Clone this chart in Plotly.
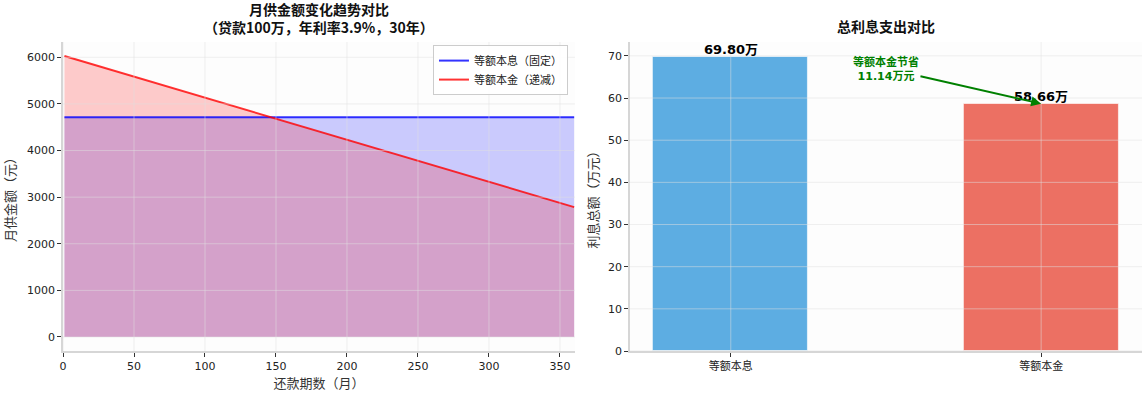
import plotly.graph_objects as go

# ---- data ----
months = [1, 60, 120, 180, 240, 300, 360]
equal_installment = [4716.74, 4716.74, 4716.74, 4716.74, 4716.74, 4716.74, 4716.74]
equal_principal = [6027.78, 5495.14, 4953.47, 4411.81, 3870.14, 3328.47, 2786.81]
line_names = ["等额本息（固定）", "等额本金（递减）"]

methods = ["等额本息", "等额本金"]
total_interest = [69.80, 58.66]
saving = 11.14

x_ticks_left = [0, 50, 100, 150, 200, 250, 300, 350]
y_ticks_left = [0, 1000, 2000, 3000, 4000, 5000, 6000]
y_ticks_right = [0, 10, 20, 30, 40, 50, 60, 70]

CJK = "Noto Sans CJK SC"
NUM = "DejaVu Sans, Noto Sans CJK SC"

fig = go.Figure()

# fills (blue first, red on top)
fig.add_trace(go.Scatter(x=months, y=equal_installment, mode="lines", line=dict(width=0),
                         fill="tozeroy", fillcolor="rgba(0,0,255,0.2)", showlegend=False,
                         hoverinfo="skip", xaxis="x", yaxis="y"))
fig.add_trace(go.Scatter(x=months, y=equal_principal, mode="lines", line=dict(width=0),
                         fill="tozeroy", fillcolor="rgba(255,0,0,0.2)", showlegend=False,
                         hoverinfo="skip", xaxis="x", yaxis="y"))
# lines
fig.add_trace(go.Scatter(x=months, y=equal_installment, mode="lines", name=line_names[0],
                         line=dict(color="rgba(0,0,255,0.8)", width=2), xaxis="x", yaxis="y"))
fig.add_trace(go.Scatter(x=months, y=equal_principal, mode="lines", name=line_names[1],
                         line=dict(color="rgba(255,0,0,0.8)", width=2), xaxis="x", yaxis="y"))

# bars
fig.add_trace(go.Bar(x=[0, 1], y=total_interest, width=0.5,
                     marker=dict(color=["rgba(52,152,219,0.8)", "rgba(231,76,60,0.8)"],
                                 line=dict(color="rgba(255,255,255,0.6)", width=1)),
                     showlegend=False, xaxis="x2", yaxis="y2"))

shapes = []
gcol = "rgba(225,225,225,0.5)"
for v in x_ticks_left:
    shapes.append(dict(type="line", xref="x", yref="y domain", x0=v, x1=v, y0=0, y1=1,
                       line=dict(color=gcol, width=1), layer="above"))
for v in y_ticks_left:
    shapes.append(dict(type="line", xref="x domain", yref="y", x0=0, x1=1, y0=v, y1=v,
                       line=dict(color=gcol, width=1), layer="above"))
for v in [0, 1]:
    shapes.append(dict(type="line", xref="x2", yref="y2 domain", x0=v, x1=v, y0=0, y1=1,
                       line=dict(color=gcol, width=1), layer="above"))
for v in y_ticks_right:
    shapes.append(dict(type="line", xref="x2 domain", yref="y2", x0=0, x1=1, y0=v, y1=v,
                       line=dict(color=gcol, width=1), layer="above"))

annotations = [
    dict(text="<b>月供金额变化趋势对比<br>（贷款100万，年利率3.9%，30年）</b>",
         xref="x domain", yref="paper", x=0.5, y=1.0, yshift=3, xanchor="center", yanchor="bottom",
         showarrow=False, font=dict(family=CJK, size=14, color="#111")),
    dict(text="<b>总利息支出对比</b>", xref="x2 domain", yref="paper", x=0.5, y=1.0, yshift=4,
         xanchor="center", yanchor="bottom", showarrow=False,
         font=dict(family=CJK, size=14, color="#111")),
]
for i, v in enumerate(total_interest):
    annotations.append(dict(text=f"<b>{v:.2f}万</b>", xref="x2", yref="y2", x=i, y=v,
                            xanchor="center", yanchor="bottom", showarrow=False, yshift=-2,
                            font=dict(family=NUM, size=13, color="#000")))
annotations.append(dict(text=f"<b>等额本金节省<br>{saving:.2f}万元</b>", xref="x2", yref="y2",
                        x=1, y=total_interest[1], ax=0.5, ay=67, axref="x2", ayref="y2",
                        showarrow=True, arrowhead=2, arrowsize=1, arrowwidth=2,
                        arrowcolor="green", standoff=0,
                        font=dict(family=NUM, size=11, color="green")))

axis_common = dict(showline=True, linecolor="#d6d6d6", linewidth=1.5, ticks="outside",
                   ticklen=4, tickcolor="#333", tickwidth=1, showgrid=False, zeroline=False,
                   automargin=False, tickfont=dict(family=NUM, size=11, color="#222"))

fig.update_layout(
    width=1142, height=394,
    margin=dict(l=63, r=0, t=42, b=43),
    paper_bgcolor="white", plot_bgcolor="#fdfdfd",
    shapes=shapes, annotations=annotations,
    xaxis=dict(domain=[0, 0.4744], range=[0, 360.5], tickvals=x_ticks_left, anchor="y",
               title=dict(text="还款期数（月）", font=dict(family=CJK, size=13, color="#333"), standoff=4),
               **axis_common),
    yaxis=dict(domain=[0, 1], range=[-301, 6329], tickvals=y_ticks_left, anchor="x",
               title=dict(text="月供金额（元）", font=dict(family=CJK, size=13, color="#333"), standoff=8),
               **axis_common),
    xaxis2=dict(domain=[0.5254, 1], range=[-0.325, 1.325], tickvals=[0, 1], ticktext=methods,
                anchor="y2", **{**axis_common, "tickfont": dict(family=CJK, size=11, color="#222")}),
    yaxis2=dict(domain=[0, 1], range=[0, 73.29], tickvals=y_ticks_right, anchor="x2",
                title=dict(text="利息总额（万元）", font=dict(family=CJK, size=13, color="#333"), standoff=6),
                **axis_common),
    legend=dict(x=0.468, y=0.99, xanchor="right", yanchor="top", bgcolor="rgba(255,255,255,0.9)",
                bordercolor="#cccccc", borderwidth=1, font=dict(family=CJK, size=11, color="#222"),
                tracegroupgap=0, itemwidth=30),
    bargap=0,
)

fig.write_html("out.html", config={"displayModeBar": False},
               post_script="document.body.style.margin='0';document.body.style.overflow='hidden';")
